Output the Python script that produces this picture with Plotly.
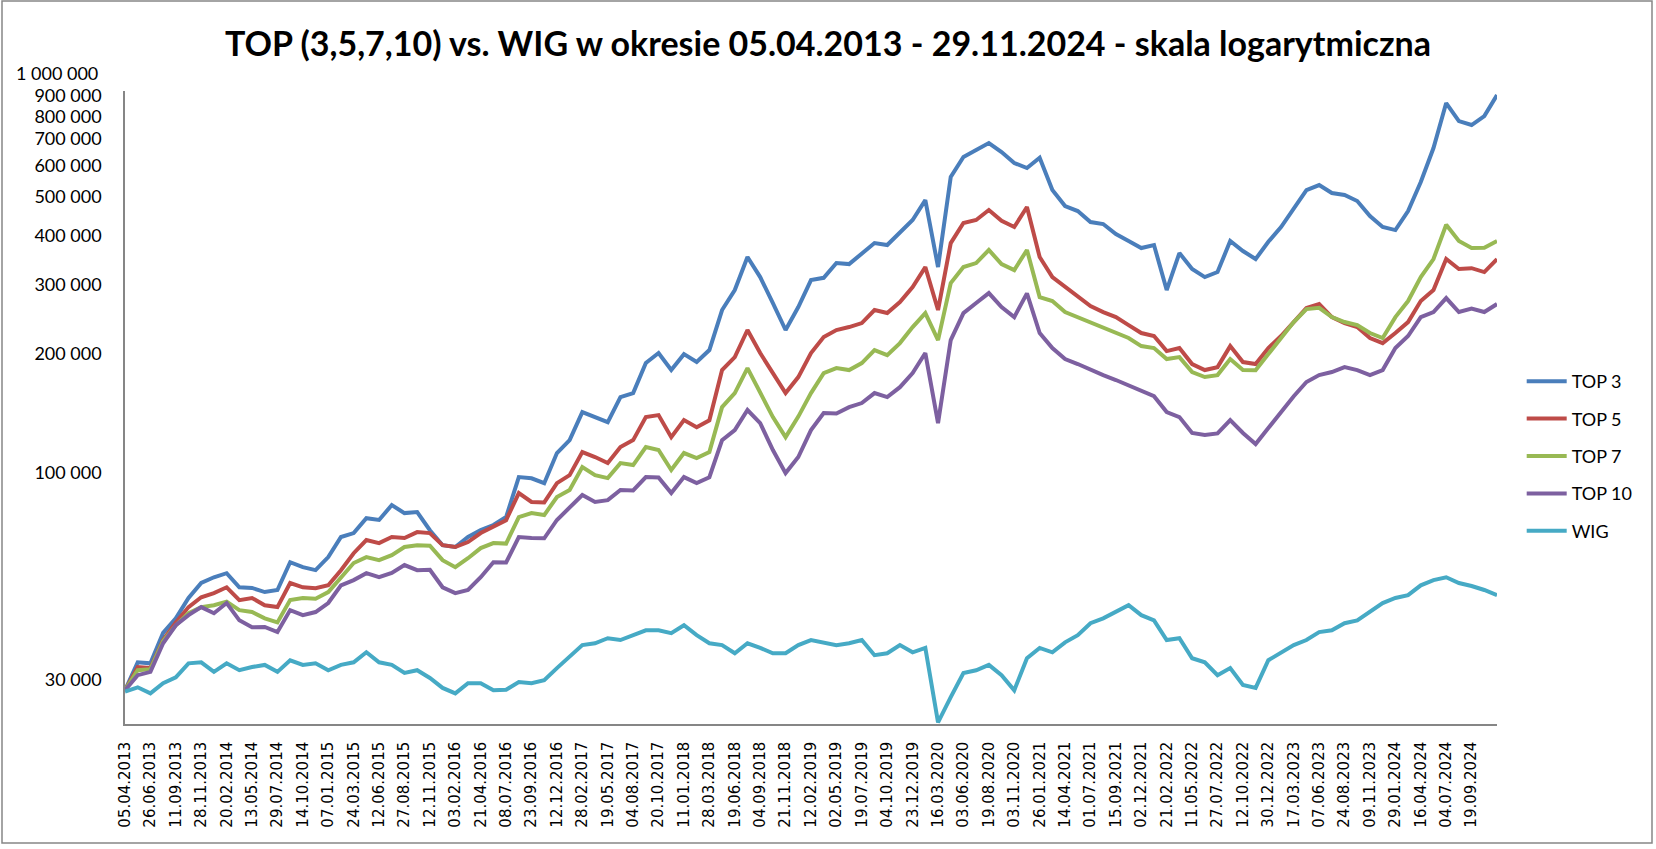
import plotly.graph_objects as go

dates = [
    "05.04.2013", "16.05.2013", "26.06.2013", "05.08.2013", "11.09.2013", "18.10.2013",
    "28.11.2013", "13.01.2014", "20.02.2014", "02.04.2014", "13.05.2014", "19.06.2014",
    "29.07.2014", "05.09.2014", "14.10.2014", "25.11.2014", "07.01.2015", "13.02.2015",
    "24.03.2015", "07.05.2015", "12.06.2015", "20.07.2015", "27.08.2015", "05.10.2015",
    "12.11.2015", "22.12.2015", "03.02.2016", "11.03.2016", "21.04.2016", "30.05.2016",
    "08.07.2016", "16.08.2016", "23.09.2016", "02.11.2016", "12.12.2016", "20.01.2017",
    "28.02.2017", "07.04.2017", "19.05.2017", "27.06.2017", "04.08.2017", "12.09.2017",
    "20.10.2017", "29.11.2017", "11.01.2018", "19.02.2018", "28.03.2018", "10.05.2018",
    "19.06.2018", "27.07.2018", "04.09.2018", "12.10.2018", "21.11.2018", "03.01.2019",
    "12.02.2019", "22.03.2019", "02.05.2019", "10.06.2019", "19.07.2019", "27.08.2019",
    "04.10.2019", "13.11.2019", "23.12.2019", "05.02.2020", "16.03.2020", "24.04.2020",
    "03.06.2020", "13.07.2020", "19.08.2020", "25.09.2020", "03.11.2020", "14.12.2020",
    "26.01.2021", "04.03.2021", "14.04.2021", "24.05.2021", "01.07.2021", "09.08.2021",
    "15.09.2021", "22.10.2021", "02.12.2021", "12.01.2022", "21.02.2022", "31.03.2022",
    "11.05.2022", "17.06.2022", "27.07.2022", "02.09.2022", "12.10.2022", "22.11.2022",
    "30.12.2022", "07.02.2023", "17.03.2023", "27.04.2023", "07.06.2023", "14.07.2023",
    "24.08.2023", "02.10.2023", "09.11.2023", "19.12.2023", "29.01.2024", "07.03.2024",
    "16.04.2024", "27.05.2024", "04.07.2024", "12.08.2024", "19.09.2024", "25.10.2024",
    "29.11.2024",
]

tick_labels = [
    "05.04.2013", "26.06.2013", "11.09.2013", "28.11.2013", "20.02.2014", "13.05.2014",
    "29.07.2014", "14.10.2014", "07.01.2015", "24.03.2015", "12.06.2015", "27.08.2015",
    "12.11.2015", "03.02.2016", "21.04.2016", "08.07.2016", "23.09.2016", "12.12.2016",
    "28.02.2017", "19.05.2017", "04.08.2017", "20.10.2017", "11.01.2018", "28.03.2018",
    "19.06.2018", "04.09.2018", "21.11.2018", "12.02.2019", "02.05.2019", "19.07.2019",
    "04.10.2019", "23.12.2019", "16.03.2020", "03.06.2020", "19.08.2020", "03.11.2020",
    "26.01.2021", "14.04.2021", "01.07.2021", "15.09.2021", "02.12.2021", "21.02.2022",
    "11.05.2022", "27.07.2022", "12.10.2022", "30.12.2022", "17.03.2023", "07.06.2023",
    "24.08.2023", "09.11.2023", "29.01.2024", "16.04.2024", "04.07.2024", "19.09.2024",
]

top3 = [
    28200, 33200, 33000, 39400, 42900, 48300, 52700, 54500, 55800, 51400, 51200, 50000,
    50600, 59500, 57800, 56800, 61300, 68900,
    70500, 76900, 76100, 83000, 79200, 79700, 71700, 65700, 65000, 68900, 71700, 73900,
    77400, 97700, 97000, 94300, 112400, 121200,
    142700, 138600, 134600, 155700, 159400, 189900, 201300, 182300, 200000, 191000, 204800,
    258600, 290600, 352200, 313400, 269400, 230200, 263100, 308000,
    312000, 340100, 338000, 360500, 382100, 377700, 407400, 437000, 490900, 332200, 561400,
    630800, 657000, 684400, 649500, 609100, 591600, 628000,
    520400, 474100, 460500, 431900, 426900, 402600, 386600, 371100, 377700, 290600, 360500,
    328400, 313400, 322700, 386600, 364700, 348100, 385000,
    419500, 465900, 520400, 535800, 511400, 505500, 488100, 447300, 419500, 412100, 460500,
    545300, 664700, 864000, 778000, 760100, 801000, 905200,
]

top5 = [
    28200, 32300, 32100, 37800, 41900, 45800, 48500, 49700, 51400, 47700, 48300, 46300,
    45800, 52700, 51400, 51100, 52000, 56800,
    62700, 67700, 66500, 68900, 68500, 70900, 70500, 65700, 65000, 66900, 70500, 73000,
    76000, 89000, 84500, 84300, 94300, 98800,
    113000, 109800, 106000, 116400, 121200, 138600, 140200, 123300, 136200, 130700, 136000,
    182300, 196600, 230200, 201300, 179100, 159400, 175000, 201300,
    220900, 230200, 234200, 239700, 258600, 254100, 271000, 295700, 332200, 258600, 382100,
    429400, 437000, 463200, 435000, 419500, 471300, 352200,
    313400, 295700, 280600, 264700, 255600, 248200, 236900, 226200, 222300, 203600, 207200,
    188800, 182300, 185400, 209600, 191000, 188800, 207200,
    222300, 241100, 261600, 267800, 248200, 239700, 234200, 219700, 213300, 226200, 241100,
    272500, 290600, 348100, 328400, 330000, 322700, 348100,
]

top7 = [
    28200, 31700, 31900, 37600, 41200, 44200, 45800, 46300, 47300, 45000, 44500, 42900,
    41900, 47700, 48300, 48100, 50000, 54500,
    59200, 61300, 60200, 62000, 65000, 65700, 65500, 60200, 57800, 60900, 64600, 66500,
    66300, 77400, 79200, 78300, 87000, 90600,
    103600, 98800, 97100, 106000, 104800, 116400, 114400, 101800, 112400, 109100, 113000,
    146900, 159400, 184400, 159000, 138600, 123300, 139000, 159400,
    179100, 184400, 182300, 189900, 204800, 198900, 213300, 234200, 254100, 217100, 302700,
    332200, 340100, 366900, 338000, 326400, 367000, 278900,
    272500, 255600, 248200, 241100, 234200, 226200, 219700, 209600, 207200, 194400, 196600,
    180200, 175000, 177000, 194400, 182300, 182000, 200100,
    219700, 241100, 260000, 262000, 248200, 241100, 236900, 226200, 219700, 248200, 272500,
    313400, 348100, 425000, 386600, 371100, 372000, 386600,
]

top10 = [
    28200, 30800, 31400, 37100, 41200, 43700, 45800, 44200, 46900, 42400, 40700, 40800,
    39600, 45000, 43700, 44500, 46900, 52000,
    53600, 55800, 54500, 55900, 58500, 56800, 56900, 51400, 49700, 50600, 54500, 59500,
    59400, 68900, 68500, 68400, 76100, 81600,
    88000, 84500, 85400, 90600, 90400, 97700, 97500, 89000, 97700, 94300, 97600,
    121200, 128500, 144400, 133800, 114400, 100000, 109800, 128500,
    141900, 141500, 146900, 150400, 159400, 155700, 165000, 179100, 201300, 133800, 217100,
    254100, 269400, 285500, 263100, 248200, 285000, 226200,
    207200, 194400, 188800, 182300, 177000, 172000, 167000, 161300, 156500, 142700, 138600,
    126300, 124800, 126000, 136200, 126300, 118400, 130000,
    142700, 156500, 170000, 177000, 180200, 185400, 182300, 177000, 182300, 207200, 222300,
    248200, 255600, 277300, 255600, 260800, 255600, 267800,
]

wig = [
    28000, 28700, 27700, 29400, 30400, 33000, 33200, 31400, 33000, 31700, 32300, 32700,
    31400, 33600, 32700, 33000, 31700, 32700,
    33200, 35200, 33200, 32700, 31200, 31700, 30300, 28600, 27700, 29400, 29400, 28200,
    28300, 29600, 29400, 29900, 32100, 34200,
    36700, 37100, 38200, 37800, 38900, 40000, 40000, 39350, 41200, 38900, 37100,
    36700, 35000, 37100, 36100, 35000, 35000, 36700, 37800,
    37300, 36700, 37100, 37800, 34600, 35000, 36700, 35200, 36100, 23400, 27100,
    31200, 31700, 32700, 30800, 28200, 34000, 36100,
    35200, 37300, 38900, 41700, 42900, 44500, 46300, 43700, 42400, 37800, 38200,
    34000, 33200, 30800, 32100, 29100, 28600, 33600,
    35200, 36700, 37800, 39600, 40000, 41700, 42400, 44500, 46900, 48300, 49100,
    52000, 53600, 54500, 52700, 51800, 50600, 49100,
]

series_names = ["TOP 3", "TOP 5", "TOP 7", "TOP 10", "WIG"]
series_values = [top3, top5, top7, top10, wig]
series_colors = ["#4A7EBB", "#BE4B48", "#98B954", "#7D60A0", "#46AAC5"]

y_tick_values = [30000, 100000, 200000, 300000, 400000, 500000, 600000, 700000,
                 800000, 900000]
y_tick_text = ["30 000", "100 000", "200 000", "300 000", "400 000", "500 000",
               "600 000", "700 000", "800 000", "900 000"]
y_top_label = "1 000 000"

# plot area in pixels: x 125..1497, y 91..724
PLOT_H = 724 - 91
PLOT_W = 1497 - 125

fig = go.Figure()
for i, (name, vals, col) in enumerate(zip(series_names, series_values, series_colors)):
    fig.add_trace(go.Scatter(
        x=dates, y=vals, mode="lines", name=name, legendgroup=f"g{i}",
        line=dict(color=col, width=4), hoverinfo="x+y+name",
    ))

fig.update_layout(
    width=1656, height=849,
    margin=dict(l=125, r=159, t=91, b=125),
    paper_bgcolor="white", plot_bgcolor="white",
    title=dict(
        text="<b>TOP (3,5,7,10) vs. WIG w okresie 05.04.2013 - 29.11.2024 - skala logarytmiczna</b>",
        x=0.5, xref="container", xanchor="center",
        y=1 - 44 / 849, yref="container", yanchor="middle",
        font=dict(family="Lato", size=34, color="black"),
    ),
    legend=dict(
        x=1.018, xanchor="left", y=(724 - 456) / PLOT_H, yanchor="middle",
        font=dict(family="Lato", size=18, color="black"),
        itemwidth=40, tracegroupgap=11, bgcolor="rgba(0,0,0,0)",
    ),
    showlegend=True,
)

fig.update_xaxes(
    type="category", range=[0, len(dates) - 1],
    tickmode="array", tickvals=tick_labels, ticktext=tick_labels,
    tickangle=-90, tickfont=dict(family="DejaVu Sans", size=15, color="black"),
    ticklabelstandoff=10,
    showline=True, linecolor="#868686", linewidth=1.5,
    showgrid=False, zeroline=False, ticks="",
)
fig.update_yaxes(
    type="log", range=[4.365, 5.967],
    tickmode="array", tickvals=y_tick_values, ticktext=y_tick_text,
    tickfont=dict(family="Lato", size=18, color="black"),
    ticklabelstandoff=18,
    showline=True, linecolor="#868686", linewidth=1.5,
    showgrid=False, zeroline=False, ticks="",
)

# top value label, placed just above the axis end
fig.add_annotation(
    text=y_top_label, showarrow=False,
    xref="paper", x=(100 - 125) / PLOT_W, xanchor="right",
    yref="paper", y=(724 - 73) / PLOT_H, yanchor="middle",
    font=dict(family="Lato", size=18, color="black"),
)

# outer chart frame
fig.add_shape(
    type="rect", xref="paper", yref="paper",
    x0=(2 - 125) / PLOT_W, x1=(1652 - 125) / PLOT_W,
    y0=(724 - 843) / PLOT_H, y1=(724 - 1) / PLOT_H,
    line=dict(color="#868686", width=1.5), fillcolor="rgba(0,0,0,0)", layer="below",
)

fig.write_html(
    "out.html",
    config={"displayModeBar": False},
    post_script="document.body.style.margin='0';document.body.style.overflow='hidden';",
)
